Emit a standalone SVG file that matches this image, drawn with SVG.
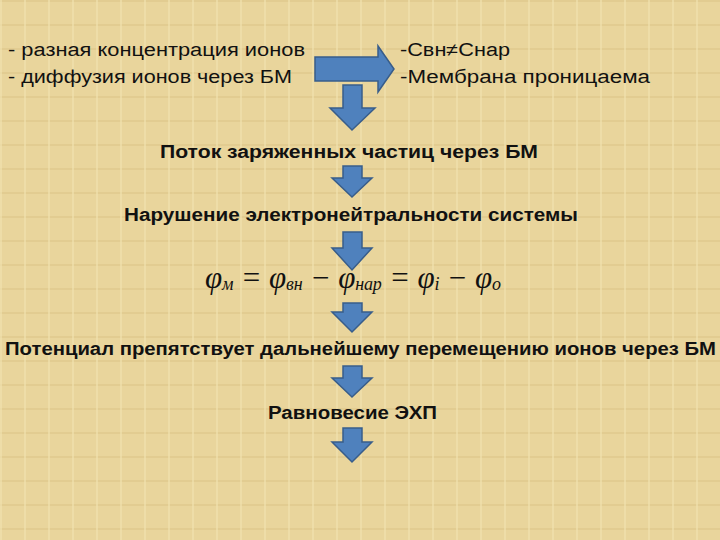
<svg xmlns="http://www.w3.org/2000/svg" width="720" height="540" viewBox="0 0 720 540">
<style>
.t{font-family:"Liberation Sans","DejaVu Sans",sans-serif;font-size:18px;fill:#111}
.b{font-weight:bold}
.f{font-family:"Liberation Serif","DejaVu Serif",serif;font-style:italic;fill:#111}
.ar{fill:#4f81bd;stroke:#385d8a;stroke-width:1.5}
</style>
<defs>
<pattern id="p" width="24" height="24" patternUnits="userSpaceOnUse">
<rect width="24" height="24" fill="#e9d59c"/>
<rect width="24" height="2" fill="#ddc68a" opacity="0.6"/>
<rect width="2" height="24" fill="#f2e2b0" opacity="0.6"/>
</pattern>
</defs>
<rect width="720" height="540" fill="url(#p)"/>
<g id="connectors">
<path class="ar" d="M315,57 H378 V46 L394,69 L378,92 V81 H315 Z"/>
<path class="ar" d="M343,85 H362 V108 H375 L352,130 L330,108 H343 Z"/>
<path class="ar" d="M343,166 H362 V178 H372 L352,197 L332,178 H343 Z"/>
<path class="ar" d="M343,232 H362 V248 H372 L352,270 L332,248 H343 Z"/>
<path class="ar" d="M343,303 H362 V312 H372 L352,332 L332,312 H343 Z"/>
<path class="ar" d="M343,366 H362 V378 H372 L352,397 L332,378 H343 Z"/>
<path class="ar" d="M343,428 H362 V442 H372 L352,462 L332,442 H343 Z"/>
</g>
<g id="causes">
<text class="t" x="8" y="56" textLength="297" lengthAdjust="spacingAndGlyphs">- разная концентрация ионов</text>
<text class="t" x="8" y="83" textLength="284" lengthAdjust="spacingAndGlyphs">- диффузия ионов через БМ</text>
</g>
<g id="conditions">
<text class="t" x="400" y="56" textLength="110" lengthAdjust="spacingAndGlyphs">-Свн≠Снар</text>
<text class="t" x="400" y="83" textLength="250" lengthAdjust="spacingAndGlyphs">-Мембрана проницаема</text>
</g>
<g id="flow"><text class="t b" x="160" y="158" textLength="378" lengthAdjust="spacingAndGlyphs">Поток заряженных частиц через БМ</text></g>
<g id="violation"><text class="t b" x="124" y="221" textLength="454" lengthAdjust="spacingAndGlyphs">Нарушение электронейтральности системы</text></g>
<g id="formula">
<text class="f" x="205" y="288" font-size="31" textLength="296" lengthAdjust="spacing">φ<tspan font-size="18" dy="2">м</tspan><tspan dy="-2"> = φ</tspan><tspan font-size="18" dy="2">вн</tspan><tspan dy="-2"> − φ</tspan><tspan font-size="18" dy="2">нар</tspan><tspan dy="-2"> = φ</tspan><tspan font-size="18" dy="2">i</tspan><tspan dy="-2"> − φ</tspan><tspan font-size="18" dy="2">o</tspan></text>
</g>
<g id="potential"><text class="t b" x="5" y="355" textLength="711" lengthAdjust="spacingAndGlyphs">Потенциал препятствует дальнейшему перемещению ионов через БМ</text></g>
<g id="equilibrium"><text class="t b" x="268" y="419" textLength="169" lengthAdjust="spacingAndGlyphs">Равновесие ЭХП</text></g>
</svg>
